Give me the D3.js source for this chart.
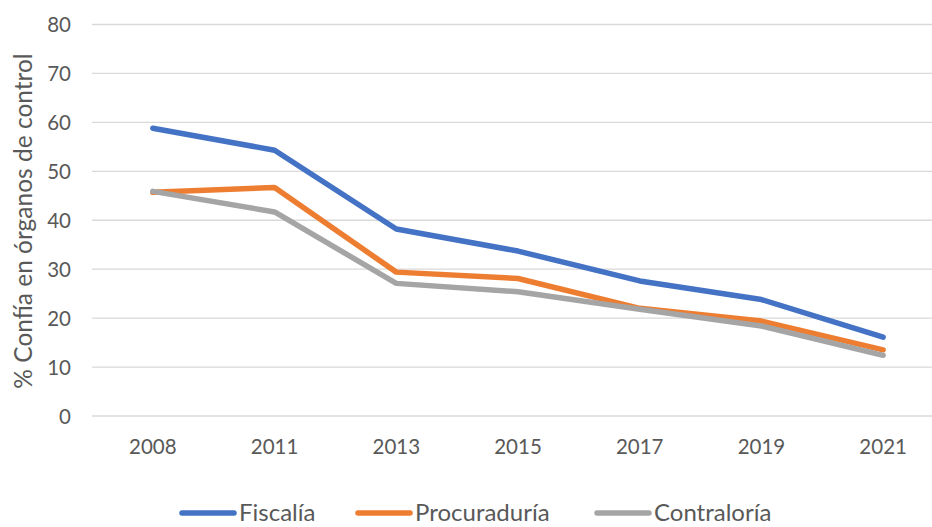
<!DOCTYPE html>
<html>
<head>
<meta charset="utf-8">
<script src="https://cdnjs.cloudflare.com/ajax/libs/d3/7.8.5/d3.min.js"></script>
<style>
body { margin: 0; background: #fff; }
svg text { font-family: Lato, "Open Sans", sans-serif; fill: #595959; }
</style>
</head>
<body>
<svg id="chart" width="932" height="527"></svg>
<script>
// data
var years = ["2008", "2011", "2013", "2015", "2017", "2019", "2021"];
var fiscalia = [58.8, 54.3, 38.2, 33.7, 27.6, 23.8, 16.1];
var procuraduria = [45.7, 46.7, 29.4, 28.1, 22.0, 19.4, 13.5];
var contraloria = [45.9, 41.7, 27.1, 25.4, 21.8, 18.4, 12.4];
var yTicks = [0, 10, 20, 30, 40, 50, 60, 70, 80];

var series = [
  {name: "Fiscalía", values: fiscalia, color: "#4472C4"},
  {name: "Procuraduría", values: procuraduria, color: "#ED7D31"},
  {name: "Contraloría", values: contraloria, color: "#A5A5A5"}
];

var svg = d3.select("#chart");

var x = d3.scaleBand().domain(years).range([92, 944]);
var y = d3.scaleLinear().domain([0, 80]).range([416, 24.5]);

// gridlines
svg.append("g")
  .selectAll("line")
  .data(yTicks)
  .enter().append("line")
    .attr("x1", 92)
    .attr("x2", 932)
    .attr("y1", function(d) { return y(d); })
    .attr("y2", function(d) { return y(d); })
    .attr("stroke", "#d9d9d9")
    .attr("stroke-width", 1.3);

// y axis labels
var yAxis = d3.axisLeft(y).tickValues(yTicks).tickSize(0).tickPadding(0);
var gy = svg.append("g").attr("transform", "translate(71,0)").call(yAxis);
gy.select(".domain").remove();
gy.selectAll("text").attr("font-size", 20.5).attr("dy", "0.35em");

// x axis labels
var xAxis = d3.axisBottom(x).tickSize(0).tickPadding(0);
var gx = svg.append("g").attr("transform", "translate(0,447)").call(xAxis);
gx.select(".domain").remove();
gx.selectAll("text").attr("font-size", 20.5).attr("dy", "0.35em");

// lines
var line = d3.line()
  .x(function(d, i) { return x(years[i]) + x.bandwidth() / 2; })
  .y(function(d) { return y(d); });

svg.selectAll(".series")
  .data(series)
  .enter().append("path")
    .attr("class", "series")
    .attr("d", function(s) { return line(s.values); })
    .attr("fill", "none")
    .attr("stroke", function(s) { return s.color; })
    .attr("stroke-width", 5.5)
    .attr("stroke-linecap", "round")
    .attr("stroke-linejoin", "round");

// y title
svg.append("text")
  .attr("transform", "translate(23,221) rotate(-90)")
  .attr("text-anchor", "middle")
  .attr("dy", "0.35em")
  .attr("font-size", 24.5)
  .text("% Confía en órganos de control");

// legend
var legendX = [180, 356, 595];
var lg = svg.selectAll(".legend")
  .data(series)
  .enter().append("g")
    .attr("class", "legend")
    .attr("transform", function(d, i) { return "translate(" + legendX[i] + ",513)"; });
lg.append("line")
  .attr("x1", 2).attr("x2", 54)
  .attr("stroke", function(d) { return d.color; })
  .attr("stroke-width", 5.5)
  .attr("stroke-linecap", "round");
lg.append("text")
  .attr("x", 59)
  .attr("dy", "0.35em")
  .attr("font-size", 24)
  .text(function(d) { return d.name; });
</script>
</body>
</html>
